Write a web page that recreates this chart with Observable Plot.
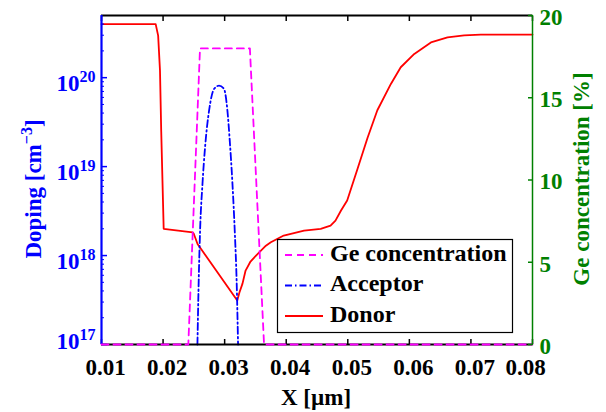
<!DOCTYPE html>
<html><head><meta charset="utf-8">
<script src="https://cdn.jsdelivr.net/npm/d3@7"></script>
<script src="https://cdn.jsdelivr.net/npm/@observablehq/plot@0.6"></script>
<style>
html,body{margin:0;padding:0;background:#fff;}
#chart{position:relative;width:606px;height:412px;}
#chart svg{position:absolute;left:0;top:0;}
</style></head><body><div id="chart"></div>
<script>
// ---- data (x in µm) ----
const donorX = [0.0100, 0.0188, 0.0192, 0.0195, 0.0197, 0.0199, 0.0201, 0.0248, 0.0250, 0.0256, 0.03205, 0.0324, 0.0329, 0.0334, 0.0342, 0.0351, 0.0367, 0.0375, 0.0396, 0.0429, 0.0456, 0.0472, 0.0480, 0.0489, 0.0499, 0.0516, 0.0532, 0.0548, 0.0570, 0.0586, 0.0608, 0.0635, 0.0662, 0.0689, 0.0716, 0.0800];
const donorY = [4.0e20, 4.0e20, 2.97e20, 1.2e20, 2.5e19, 7.0e18, 2.0e18, 1.82e18, 1.75e18, 1.35e18, 3.12e17, 3.84e17, 4.84e17, 6.78e17, 8.57e17, 1.0e18, 1.29e18, 1.41e18, 1.68e18, 1.91e18, 2.0e18, 2.17e18, 2.47e18, 3.21e18, 4.15e18, 9.5e18, 2.1e19, 4.3e19, 8.5e19, 1.31e20, 1.85e20, 2.49e20, 2.84e20, 2.99e20, 3.04e20, 3.05e20];
const acceptorX = [0.02558, 0.02575, 0.02601, 0.0264, 0.02682, 0.02747, 0.02828, 0.02909, 0.0299, 0.03045, 0.03083, 0.03127, 0.03164, 0.03196, 0.03218];
const acceptorY = [1e17, 4.0e17, 1.9e18, 6.4e18, 1.65e19, 4.26e19, 7.46e19, 8.13e19, 7.46e19, 4.26e19, 1.96e19, 6.4e18, 1.9e18, 4.8e17, 1e17];
const geX = [0.0100, 0.0241, 0.0260, 0.0341, 0.0364, 0.0800];
const geY = [0, 0, 18, 18, 0, 0];
const xTicks = [0.01, 0.02, 0.03, 0.04, 0.05, 0.06, 0.07, 0.08];
const dopingTicks = [1e17, 1e18, 1e19, 1e20];
const geTicks = [0, 5, 10, 15, 20];
const legendLabels = ["Ge concentration", "Acceptor", "Donor"];

const donor = donorX.map((x, i) => ({x, y: donorY[i]}));
const acceptor = acceptorX.map((x, i) => ({x, y: acceptorY[i]}));
const ge = geX.map((x, i) => ({x, y: geY[i]}));
const minorTicks = [];
for (const e of [17, 18, 19, 20]) for (let m = 2; m <= 9; m++) { const v = m * 10 ** e; if (v < 5e20) minorTicks.push(v); }

const FONT = "Liberation Serif, Times New Roman, serif";
const BLUE = "#0000ff", GREEN = "#008000", RED = "#ff0000", MAG = "#ff00ff";
const common = {
  width: 606, height: 412, marginLeft: 101, marginRight: 74, marginTop: 15, marginBottom: 68,
  x: {domain: [0.01, 0.08]},
  style: {background: "transparent", overflow: "visible"}
};
const txt = {fontFamily: FONT, fontWeight: "bold", fontSize: 23};

const p1 = Plot.plot({
  ...common,
  y: {type: "log", domain: [1e17, 5e20]},
  marks: [
    Plot.line(donor, {x: "x", y: "y", stroke: RED, strokeWidth: 1.8}),
    Plot.line(acceptor, {x: "x", y: "y", stroke: BLUE, strokeWidth: 1.8, strokeDasharray: "7,3,1.5,3", curve: "monotone-x"}),
    Plot.ruleY([5e20], {stroke: "black", strokeWidth: 2}),
    Plot.ruleY([1e17], {stroke: "black", strokeWidth: 2}),
    Plot.axisX(xTicks, {anchor: "top", tickSize: 5, dy: 5, stroke: "black", strokeWidth: 1.5, fill: "none", label: null}),
    Plot.axisX(xTicks, {anchor: "bottom", tickSize: 5, dy: -5, stroke: "black", strokeWidth: 1.5, fill: "none", label: null}),
    Plot.axisX(xTicks, {anchor: "bottom", tickSize: 0, tickPadding: 14, dx: 4, tickFormat: d => d.toFixed(2), fill: "black", label: null, ...txt}),
    Plot.axisY(dopingTicks, {anchor: "left", tickSize: 6, dx: 6, stroke: BLUE, strokeWidth: 1.5, fill: "none", label: null}),
    Plot.axisY(minorTicks, {anchor: "left", tickSize: 3, dx: 3, stroke: BLUE, strokeWidth: 1, fill: "none", label: null}),
    Plot.axisY(dopingTicks, {anchor: "left", tickSize: 0, tickPadding: 6, dy: 6, fill: BLUE, tickFormat: d => String(Math.round(Math.log10(d))), label: null, ...txt}),
    Plot.ruleX([0.01], {stroke: BLUE, strokeWidth: 2.2})
  ]
});

const p2 = Plot.plot({
  ...common,
  x: {domain: [0.01, 0.08], axis: null},
  y: {domain: [0, 20], axis: null},
  marks: [
    Plot.line(ge, {x: "x", y: "y", stroke: MAG, strokeWidth: 1.8, strokeDasharray: "7,5"}),
    Plot.ruleX([0.08], {stroke: GREEN, strokeWidth: 1.5}),
    Plot.axisY(geTicks, {anchor: "right", tickSize: 5, dx: -5, stroke: GREEN, strokeWidth: 1.5, fill: "none", label: null}),
    Plot.axisY(geTicks, {anchor: "right", tickSize: 0, tickPadding: 7, dy: 2, fill: GREEN, tickFormat: d => String(d), label: null, ...txt})
  ]
});

const chart = document.getElementById("chart");
chart.appendChild(p1);
chart.appendChild(p2);

const shift = (node, dx, dy) => {
  const tr = node.getAttribute("transform");
  node.setAttribute("transform", (tr ? tr + " " : "") + `translate(${dx},${dy})`);
};
// superscript exponents on the log-axis tick labels
d3.select(p1).selectAll('g[aria-label="y-axis tick label"] text').each(function() {
  const exp = this.textContent;
  if (!/^\d+$/.test(exp)) return;
  const t = d3.select(this);
  t.text("10");
  t.append("tspan").attr("dy", -9).attr("font-size", 16).text(exp);
  if (exp === "17") shift(this, 0, -8.5);
});
// MATLAB keeps the last x label inside the figure
d3.select(p1).selectAll('g[aria-label="x-axis tick label"] text').each(function() {
  if (this.textContent === "0.08") shift(this, -11, 0);
});

// axis titles and legend
const s = d3.select(p2);
const tf = (sel) => sel.attr("font-family", FONT).attr("font-weight", "bold");
const yl = s.append("text").attr("transform", "translate(41,189) rotate(-90)").attr("text-anchor", "middle")
  .attr("fill", BLUE).attr("font-size", 23).call(tf);
yl.append("tspan").text("Doping [cm");
yl.append("tspan").attr("dy", -9).attr("font-size", 16).text("−3");
yl.append("tspan").attr("dy", 9).text("]");
s.append("text").attr("transform", "translate(589,179) rotate(-90)").attr("text-anchor", "middle")
  .attr("fill", GREEN).attr("font-size", 23).call(tf).text("Ge concentration [%]");
s.append("text").attr("x", 316).attr("y", 405).attr("text-anchor", "middle")
  .attr("fill", "black").attr("font-size", 23).call(tf).text("X [µm]");

const lg = s.append("g");
lg.append("rect").attr("x", 277.5).attr("y", 239.5).attr("width", 235).attr("height", 93)
  .attr("fill", "white").attr("stroke", "black").attr("stroke-width", 1.2);
const styles = [{c: MAG, d: "7,5"}, {c: BLUE, d: "7,3,1.5,3"}, {c: RED, d: null}];
const base = [260.5, 291, 321.5];
legendLabels.forEach((lab, i) => {
  lg.append("line").attr("x1", 285).attr("x2", 323).attr("y1", base[i] - 5.5).attr("y2", base[i] - 5.5)
    .attr("stroke", styles[i].c).attr("stroke-width", 1.8).attr("stroke-dasharray", styles[i].d);
  lg.append("text").attr("x", 330).attr("y", base[i]).attr("text-anchor", "start")
    .attr("fill", "black").attr("font-size", 24).call(tf).text(lab);
});
</script></body></html>
